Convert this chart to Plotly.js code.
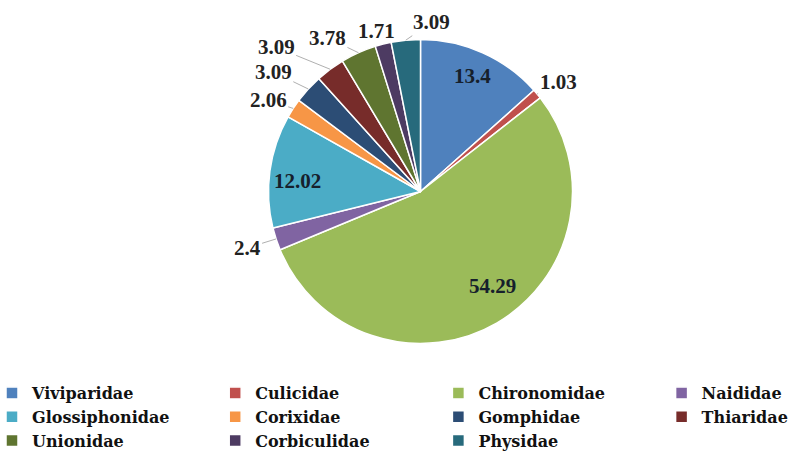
<!DOCTYPE html>
<html>
<head>
<meta charset="utf-8">
<script src="https://cdn.plot.ly/plotly-3.0.1.min.js"></script>
<style>
html,body{margin:0;padding:0;background:#fff;overflow:hidden;width:792px;height:453px;}
#chart{width:900px;height:453px;}
</style>
</head>
<body>
<div id="chart"></div>
<script>
// ---- data ----
const families = ["Viviparidae","Culicidae","Chironomidae","Naididae","Glossiphonidae","Corixidae","Gomphidae","Thiaridae","Unionidae","Corbiculidae","Physidae"];
const percents = [13.4,1.03,54.29,2.4,12.02,2.06,3.09,3.09,3.78,1.71,3.09];
const sliceColors = ["#4F81BD","#C0504D","#9BBB59","#8064A2","#4BACC6","#F79646","#2C4D75","#772C2A","#5F7530","#4D3B62","#276A7C"];

// ---- layout / style ----
const labelInside = [true,false,true,false,true,false,false,false,false,false,false];
// inside labels: radial fraction + pixel shift; outside labels: pixel offset from slice edge (leader line)
const labelRadius = [0.83,1,0.78,1,0.815,1,1,1,1,1,1];
const labelNudges = [[0,0],[21,-12],[12,-8],[-29,9],[0,6],[-25,-8],[-35,-17],[-54,-22],[-31,-15],[-7,-13],[26,-18]];

const W = 900, H = 453, MB = 100;           // figure is wider than the window; right part is clipped
const plotH = H - MB;
const cx = 420.5, cy = 191.5, R = 152;      // pie centre and radius in page pixels
const pieDomain = {
  x: [(cx - R) / W, (cx + R) / W],
  y: [(plotH - (cy + R)) / plotH, (plotH - (cy - R)) / plotH]
};

const labelFont = {family: "Liberation Serif", size: 21, weight: "bold"};
const total = percents.reduce((a, b) => a + b, 0);
let cum = 0;
const annotations = [];
percents.forEach((v, i) => {
  const mid = (cum + v / 2) / total * 2 * Math.PI; // clockwise from 12 o'clock
  cum += v;
  const r = R * labelRadius[i];
  const px = cx + r * Math.sin(mid);
  const py = cy - r * Math.cos(mid);
  const base = {xref: "paper", yref: "paper", x: px / W, y: (plotH - py) / plotH, text: String(v),
                xanchor: "center", yanchor: "middle"};
  if (labelInside[i]) {
    annotations.push(Object.assign(base, {
      showarrow: false, xshift: labelNudges[i][0], yshift: -labelNudges[i][1],
      font: Object.assign({color: "#16202c"}, labelFont)
    }));
  } else {
    annotations.push(Object.assign(base, {
      ax: labelNudges[i][0], ay: labelNudges[i][1],
      showarrow: true, arrowhead: 0, arrowwidth: 0.8, arrowcolor: "#9a9a9a", standoff: 0,
      font: Object.assign({color: "#222222"}, labelFont)
    }));
  }
});

const trace = {
  type: "pie",
  labels: families,
  values: percents,
  textinfo: "none",
  sort: false,
  direction: "clockwise",
  rotation: 0,
  marker: {colors: sliceColors, line: {color: "#ffffff", width: 1.5}},
  domain: pieDomain,
  hoverinfo: "label+value"
};

const layout = {
  width: W, height: H,
  margin: {l: 0, r: 0, t: 0, b: MB, autoexpand: false},
  paper_bgcolor: "#ffffff",
  showlegend: true,
  annotations: annotations,
  legend: {
    orientation: "h",
    x: -8 / W, xanchor: "left",
    y: (plotH - 376) / plotH, yanchor: "top",
    entrywidth: 0.248, entrywidthmode: "fraction",
    font: {family: "DejaVu Serif", size: 16, color: "#111111", weight: "bold"},
    traceorder: "normal"
  }
};

Plotly.newPlot("chart", [trace], layout, {displayModeBar: false, staticPlot: true});
</script>
</body>
</html>
